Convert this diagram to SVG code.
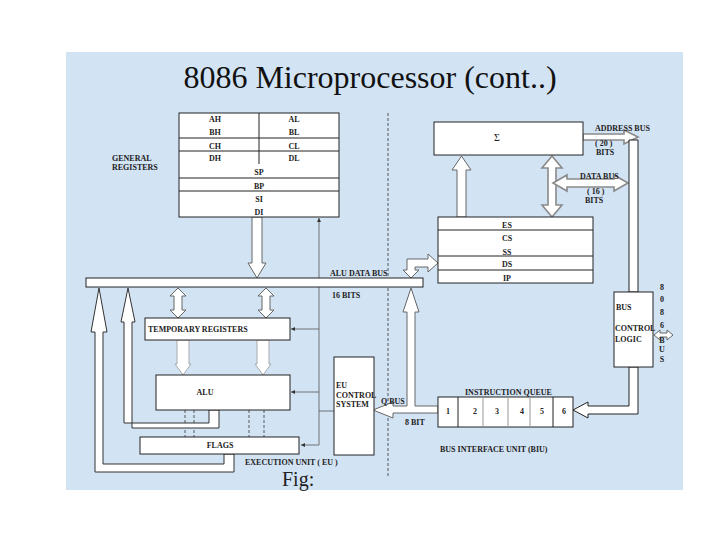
<svg xmlns="http://www.w3.org/2000/svg" width="720" height="540" viewBox="0 0 720 540">
<defs>
<style>
.box{fill:#fff;stroke:#222;stroke-width:1}
.t{font-family:"Liberation Serif","Times New Roman",serif;font-size:8px;font-weight:bold;fill:#222}
.m{text-anchor:middle}
.ar{fill:#fff;stroke:#666;stroke-width:1;stroke-linejoin:miter}
.ag{fill:#fff;stroke:#8a8a8a;stroke-width:1.6}
.thin{fill:none;stroke:#555;stroke-width:0.8}
.dash{fill:none;stroke:#333;stroke-width:0.8;stroke-dasharray:3 2}
</style>
<marker id="ah" viewBox="0 0 6 6" refX="6" refY="3" markerWidth="5" markerHeight="5" orient="auto"><path d="M0,0 L6,3 L0,6 z" fill="#333"/></marker>
</defs>
<rect x="0" y="0" width="720" height="540" fill="#fff"/>
<rect x="66" y="52" width="617" height="438" fill="#d2e3f4"/>
<text x="370" y="88" text-anchor="middle" font-family="Liberation Serif,'Times New Roman',serif" font-size="32" fill="#111">8086 Microprocessor (cont..)</text>

<g id="connectors">
<line class="dash" x1="388" y1="113" x2="388" y2="478"/>
<path class="thin" d="M319,445 V218" marker-end="url(#ah)"/>
<path class="thin" d="M319,329 H291" marker-end="url(#ah)"/>
<path class="thin" d="M319,392 H291" marker-end="url(#ah)"/>
<path class="thin" d="M319,445 H301" marker-end="url(#ah)"/>
<path class="thin" d="M319,411 H334"/>
<polygon class="ar" points="252,217 262,217 262,263 266,263 257,278 248,263 252,263"/>
<polygon class="ar" points="178,288 186,296 182,296 182,310 186,310 178,318 170,310 174,310 174,296 170,296"/>
<polygon class="ar" points="266,288 274,296 270,296 270,310 274,310 266,318 258,310 262,310 262,296 258,296"/>
<polygon class="ar" points="177,340 189,340 189,364 191,364 183,375 175,364 177,364" style="stroke:#aaa"/>
<polygon class="ar" points="257,340 269,340 269,364 271,364 263,375 255,364 257,364" style="stroke:#aaa"/>
<line class="dash" x1="185" y1="410" x2="185" y2="437"/>
<line class="dash" x1="194" y1="410" x2="194" y2="437"/>
<line class="dash" x1="249" y1="410" x2="249" y2="437"/>
<line class="dash" x1="264" y1="410" x2="264" y2="437"/>
<polygon class="ar" points="209,410 219,410 219,428 132,428 132,322 135,322 128,288 121,322 124,322 124,423 209,423" style="stroke:#333"/>
<polygon class="ar" points="224,454 234,454 234,472 95,472 95,332 91,332 99,288 107,332 103,332 103,464 224,464" style="stroke:#333"/>
<polygon class="ar" points="438,406 415,406 415,312 419,312 411,288 403,312 407,312 407,406 393,406 393,402 373,410 393,418 393,413 438,413"/>
<polygon class="ar" points="407,259 428,259 428,254 438,263 428,272 428,267 415,267 415,270 419,270 411,278 403,270 407,270"/>
<polygon class="ar" points="457,217 466,217 466,170 471,170 461.5,156 452,170 457,170"/>
<polygon class="ag" points="552,156 562,168 556,168 556,205 562,205 552,217 542,205 548,205 548,168 542,168"/>
<polygon class="ag" points="553,183 567,175 567,179 614,179 614,175 628,183 614,191 614,187 567,187 567,191"/>
<polygon class="ag" points="583,134 624,134 624,130 638,137 624,144 624,140 583,140"/>
<polygon class="ar" points="629,140 638,140 638,292 629,292" style="stroke:#222"/>
<polygon class="ar" points="629,367 638,367 638,414 588,414 588,418 573,410 588,402 588,406 629,406" style="stroke:#222"/>
<polygon class="ar" points="654,335 660,330 660,333 667,333 667,330 673,335 667,340 667,337 660,337 660,340"/>
</g>

<g id="general-registers">
<rect class="box" x="179" y="113" width="160" height="104"/>
<line x1="179" y1="138" x2="339" y2="138" stroke="#222"/>
<line x1="179" y1="151" x2="339" y2="151" stroke="#222"/>
<line x1="179" y1="178" x2="339" y2="178" stroke="#222"/>
<line x1="179" y1="191" x2="339" y2="191" stroke="#222"/>
<line x1="259" y1="113" x2="259" y2="164" stroke="#222"/>
<text class="t m" x="215" y="122">AH</text><text class="t m" x="294" y="122">AL</text>
<text class="t m" x="215" y="135">BH</text><text class="t m" x="294" y="135">BL</text>
<text class="t m" x="215" y="148.5">CH</text><text class="t m" x="294" y="148.5">CL</text>
<text class="t m" x="215" y="161">DH</text><text class="t m" x="294" y="161">DL</text>
<text class="t m" x="259" y="174.5">SP</text>
<text class="t m" x="259" y="188.5">BP</text>
<text class="t m" x="259" y="202">SI</text>
<text class="t m" x="259" y="214.5">DI</text>
<text class="t" x="112" y="161">GENERAL</text>
<text class="t" x="112" y="169.5">REGISTERS</text>
</g>

<g id="alu-data-bus">
<rect class="box" x="86" y="278" width="337" height="9"/>
<text class="t" x="330" y="276">ALU DATA BUS</text>
<text class="t" x="332" y="298">16 BITS</text>
</g>

<g id="temporary-registers">
<rect class="box" x="145" y="318" width="145" height="22"/>
<text class="t" x="148" y="332">TEMPORARY REGISTERS</text>
</g>

<g id="alu">
<rect class="box" x="156" y="375" width="134" height="35"/>
<text class="t m" x="205" y="395">ALU</text>
</g>

<g id="flags">
<rect class="box" x="140" y="437" width="159" height="17"/>
<text class="t m" x="220" y="448">FLAGS</text>
</g>

<g id="eu-control">
<rect class="box" x="334" y="357" width="40" height="98"/>
<text class="t" x="336" y="388">EU</text>
<text class="t" x="336" y="398">CONTROL</text>
<text class="t" x="336" y="407">SYSTEM</text>
<text class="t" x="381" y="404">Q BUS</text>
<text class="t" x="405" y="425">8 BIT</text>
<text class="t" x="245" y="465">EXECUTION UNIT ( EU )</text>
</g>

<g id="sigma">
<rect class="box" x="434" y="122" width="149" height="33"/>
<text x="497" y="141" text-anchor="middle" font-family="Liberation Serif,serif" font-size="10" fill="#222">Σ</text>
<text class="t" x="595" y="131">ADDRESS BUS</text>
<text class="t" x="595" y="146">( 20 )</text>
<text class="t" x="596" y="155">BITS</text>
<text class="t" x="580" y="179">DATA BUS</text>
<text class="t" x="587" y="194">( 16 )</text>
<text class="t" x="585" y="203">BITS</text>
</g>

<g id="segment-registers">
<rect class="box" x="438" y="217" width="155" height="66"/>
<line x1="438" y1="230" x2="593" y2="230" stroke="#222"/>
<line x1="438" y1="256" x2="593" y2="256" stroke="#222"/>
<line x1="438" y1="270" x2="593" y2="270" stroke="#222"/>
<text class="t m" x="507" y="228">ES</text>
<text class="t m" x="507" y="241">CS</text>
<text class="t m" x="507" y="254.5">SS</text>
<text class="t m" x="507" y="267">DS</text>
<text class="t m" x="507" y="281">IP</text>
</g>

<g id="instruction-queue">
<rect class="box" x="438" y="397" width="135" height="30"/>
<line x1="458" y1="397" x2="458" y2="427" stroke="#222"/>
<line x1="483" y1="397" x2="483" y2="427" stroke="#999"/>
<line x1="508" y1="397" x2="508" y2="427" stroke="#999"/>
<line x1="530" y1="397" x2="530" y2="427" stroke="#999"/>
<line x1="553" y1="397" x2="553" y2="427" stroke="#222"/>
<text class="t m" x="448" y="414">1</text>
<text class="t m" x="475" y="414">2</text>
<text class="t m" x="497" y="414">3</text>
<text class="t m" x="522" y="414">4</text>
<text class="t m" x="542" y="414">5</text>
<text class="t m" x="564" y="414">6</text>
<text class="t" x="465" y="395">INSTRUCTION QUEUE</text>
<text class="t" x="440" y="452">BUS INTERFACE UNIT    (BIU)</text>
</g>

<g id="bus-control-logic">
<rect class="box" x="614" y="292" width="39" height="75"/>
<text class="t" x="616" y="310">BUS</text>
<text class="t" x="615" y="331">CONTROL</text>
<text class="t" x="615" y="342">LOGIC</text>
<text class="t m" x="662" y="290">8</text>
<text class="t m" x="662" y="302">0</text>
<text class="t m" x="662" y="315">8</text>
<text class="t m" x="662" y="328">6</text>
<text class="t m" x="662" y="343">B</text>
<text class="t m" x="662" y="352">U</text>
<text class="t m" x="662" y="362">S</text>
</g>

<text x="282" y="486" font-family="Liberation Serif,'Times New Roman',serif" font-size="20" fill="#222">Fig:</text>
</svg>
